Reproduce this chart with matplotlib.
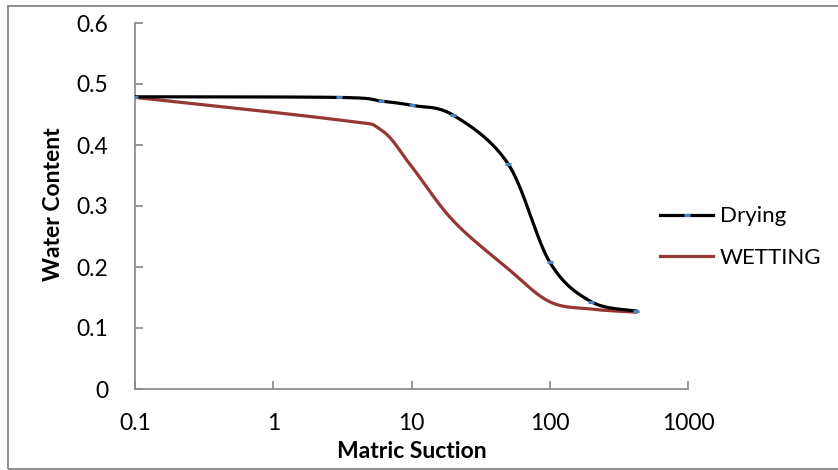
import numpy as np
import matplotlib
matplotlib.use("Agg")
import matplotlib.pyplot as plt
from matplotlib.patches import Rectangle

# suction values (log scale) and water content
suction = [0.1, 3, 6, 10, 20, 50, 100, 200, 420]
drying = [0.479, 0.478, 0.472, 0.465, 0.449, 0.369, 0.208, 0.143, 0.128]
wetting = [0.478, 0.441, 0.425, 0.365, 0.276, 0.197, 0.143, 0.131, 0.126]
x_ticks = [0.1, 1, 10, 100, 1000]
y_ticks = [0, 0.1, 0.2, 0.3, 0.4, 0.5, 0.6]


def smooth(xs, ys, n=40):
    # excel style smoothed line (catmull-rom in log x)
    lx = np.log10(xs)
    p = np.column_stack([lx, ys])
    p = np.vstack([p[0], p, p[-1]])
    out = []
    for i in range(1, len(p) - 2):
        p0, p1, p2, p3 = p[i - 1], p[i], p[i + 1], p[i + 2]
        t = np.linspace(0, 1, n, endpoint=False)[:, None]
        c = 0.5 * ((2 * p1) + (-p0 + p2) * t + (2 * p0 - 5 * p1 + 4 * p2 - p3) * t ** 2
                   + (-p0 + 3 * p1 - 3 * p2 + p3) * t ** 3)
        out.append(c)
    out.append(p[-2][None, :])
    out = np.vstack(out)
    return 10 ** out[:, 0], out[:, 1]


plt.rcParams['font.family'] = ['Lato', 'DejaVu Sans']
fs = 16.5

fig = plt.figure(figsize=(8.38, 4.70), dpi=100)
ax = fig.add_axes([135 / 838, 1 - 389 / 470, (688 - 135) / 838, (389 - 23) / 470])

n = 40
dx, dy = smooth(suction, drying, n)
wx, wy = smooth(suction, wetting, n)
ax.plot(dx, dy, color='black', lw=2.3, marker='_', markevery=list(range(0, len(dx), n)),
        ms=4.5, mew=2.2, mec='#4F81BD', label='Drying', zorder=3)
ax.plot(wx, wy, color='#953735', lw=2.3, label='WETTING', zorder=2)

ax.set_xscale('log')
ax.set_xlim(0.1, 1000)
ax.set_ylim(0, 0.6)
ax.set_xticks(x_ticks)
ax.set_xticklabels(['0.1', '1', '10', '100', '1000'])
ax.set_yticks(y_ticks)
ax.set_yticklabels(['0', '0.1', '0.2', '0.3', '0.4', '0.5', '0.6'])
ax.minorticks_off()
ax.tick_params(axis='x', direction='in', length=6, width=1.2, color='#868686',
               labelsize=fs, pad=17)
ax.tick_params(axis='y', direction='in', length=6, width=1.2, color='#868686',
               labelsize=fs, pad=19)
for s in ['top', 'right']:
    ax.spines[s].set_visible(False)
for s in ['left', 'bottom']:
    ax.spines[s].set_color('#868686')
    ax.spines[s].set_linewidth(1.2)

ax.set_xlabel('Matric Suction', fontsize=fs, fontweight='bold', va='center')
ax.set_ylabel('Water Content', fontsize=fs, fontweight='bold', va='center')
ax.xaxis.set_label_coords(0.5, -0.172)
ax.yaxis.set_label_coords(-0.148, 0.505)

ax.legend(loc='center left', bbox_to_anchor=(660 / 838, 1 - 237 / 470),
          bbox_transform=fig.transFigure, frameon=False, fontsize=16,
          borderpad=0, borderaxespad=0, handlelength=2.4, handletextpad=0.3,
          labelspacing=0.95)

# chart border (right side runs off the image)
fig.patches.append(Rectangle((8 / 838, 1.5 / 470), 840 / 838, 462.5 / 470, transform=fig.transFigure,
                             fill=False, edgecolor='#868686', lw=1.3))

fig.savefig('out.png', dpi=100)
